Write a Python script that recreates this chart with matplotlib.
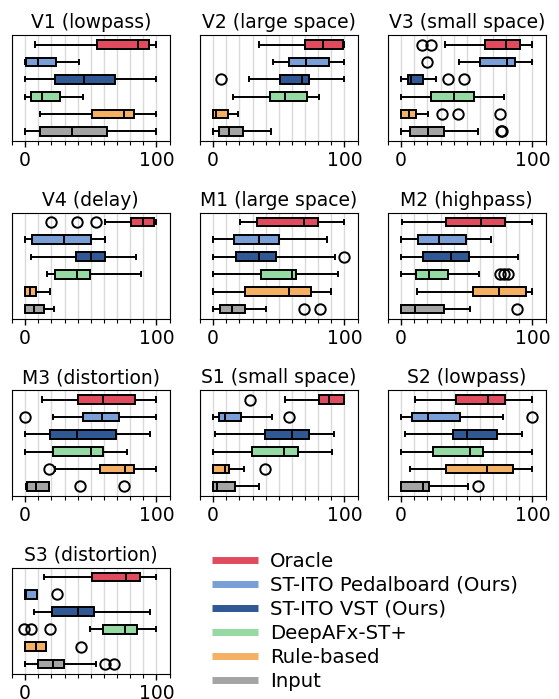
import matplotlib
matplotlib.use("Agg")
import matplotlib.pyplot as plt
from matplotlib.lines import Line2D
from matplotlib.ticker import MultipleLocator

plt.rcParams['font.family'] = ['DejaVu Sans']
plt.rcParams['font.size'] = 13.5

methods = ["Oracle", "ST-ITO Pedalboard (Ours)", "ST-ITO VST (Ours)",
           "DeepAFx-ST+", "Rule-based", "Input"]
colors = ["#e04b5e", "#7a9fd6", "#2f5895", "#95d9a3", "#f4b063", "#a4a4a4"]

titles = ["V1 (lowpass)", "V2 (large space)", "V3 (small space)",
          "V4 (delay)", "M1 (large space)", "M2 (highpass)",
          "M3 (distortion)", "S1 (small space)", "S2 (lowpass)",
          "S3 (distortion)"]

# each row: (whisker low, q1, median, q3, whisker high, fliers), order = methods
V1 = [(7.7, 54.8, 86, 94, 100, []),
      (0, 0.8, 9.7, 23.5, 41, []),
      (0, 22.4, 45, 68.4, 100, []),
      (0, 4.3, 13, 26.8, 44, []),
      (11.7, 51, 75, 83, 100, []),
      (0, 11.5, 36, 62, 100, [])]
V2 = [(34.6, 69.7, 84, 98.7, 100, []),
      (45.5, 57.8, 70.5, 88.5, 100, []),
      (27.7, 50.9, 68, 73.3, 100, [5.9]),
      (15.3, 43.5, 55, 71.2, 81, []),
      (0, 0, 2, 11.7, 19.3, []),
      (0, 4.6, 12.2, 22.4, 44.3, [])]
V3 = [(33.8, 63.9, 80, 90.6, 100, [15.8, 22.6]),
      (44, 60, 81, 87, 100, [19.6]),
      (0, 5.6, 7.4, 16.5, 26.5, [35.9, 48]),
      (0, 22.6, 40, 55.2, 78.6, []),
      (0, 0, 6, 11.5, 20.6, [31, 43.5, 75.6]),
      (0, 6.9, 20.4, 33, 58.3, [76, 76.6])]
V4 = [(61.2, 80.4, 90, 98.2, 100, [19.6, 39.5, 54.3]),
      (0, 5.1, 29.3, 50, 60.5, []),
      (4.6, 38.5, 50, 61.2, 84.2, []),
      (16.6, 22.4, 39.3, 49.2, 88, []),
      (0, 0, 3.8, 8.2, 19.1, []),
      (0, 0, 6.4, 14.5, 22.2, [])]
M1 = [(20.1, 33.6, 69.2, 79.6, 100, []),
      (0, 15.8, 34.6, 49.9, 86.5, []),
      (0, 17.8, 34.6, 47.8, 93.1, [100]),
      (0, 36.6, 60, 63.4, 95.2, []),
      (0, 24.4, 58, 74.3, 89.8, []),
      (0, 5.3, 14.2, 24.4, 40.5, [69.2, 81.2])]
M2 = [(0.8, 34, 61, 79.4, 100, []),
      (0, 13.2, 28.5, 49.4, 68.4, []),
      (0, 17, 38.2, 51.4, 88.8, []),
      (0, 11.5, 21.1, 35.4, 59.5, [75.6, 78.6, 81.7]),
      (12, 54.5, 74.3, 95, 100, []),
      (0, 0, 10.2, 32.6, 52.7, [88.5])]
M3 = [(12.8, 40, 59.7, 83.4, 100, []),
      (20.9, 44.1, 58.7, 71.9, 100, [0]),
      (0, 19.1, 39.3, 69.1, 94.9, []),
      (0, 21.2, 50.3, 59.4, 77.3, []),
      (23, 56.9, 76, 82.9, 100, [18.1]),
      (0.8, 1.8, 8.2, 17.9, 17.9, [42, 75.3])]
S1 = [(55, 80.7, 88, 100, 100, [28.2]),
      (0, 4.8, 9.2, 21.1, 44.8, [58]),
      (1.5, 39.7, 60, 73, 92, []),
      (0, 29.5, 54.2, 64.9, 90.8, []),
      (0, 0, 9.4, 12.2, 23.4, [39.7]),
      (0, 0, 2.8, 16.3, 34.9, [])]
S2 = [(10.9, 42, 66.2, 79.1, 100, []),
      (0, 8.1, 20.1, 44.5, 77.4, [100]),
      (3.1, 39.7, 50.1, 73, 92.4, []),
      (0, 24.2, 52.4, 62.1, 100, []),
      (7.1, 34.4, 65.1, 85.2, 100, []),
      (0, 0, 16.5, 21.6, 50.9, [58.5])]
S3 = [(14, 51, 76.8, 87.8, 100, []),
      (0, 0, 0.5, 8.7, 8.7, [24.2]),
      (7.1, 20.4, 40, 52.3, 94.9, []),
      (49.7, 59.2, 76, 85.5, 100, [-0.5, 4.3, 19.1]),
      (0, 0, 8.4, 16.1, 16.1, [42.6]),
      (0, 9.7, 20.9, 29.6, 54.3, [61.2, 67.6])]

panels = [V1, V2, V3, V4, M1, M2, M3, S1, S2, S3]

fig = plt.figure(figsize=(5.59, 6.99), dpi=100)
W, H = 559.0, 699.0
col_left = [12, 200, 388]
row_top = [35, 212.5, 390, 567.5]
aw, ah = 157.5, 106

for i, (title, data) in enumerate(zip(titles, panels)):
    r, c = divmod(i, 3)
    ax = fig.add_axes([col_left[c] / W, 1 - (row_top[r] + ah) / H, aw / W, ah / H])
    stats = []
    for lo, q1, med, q3, hi, fl in data:
        stats.append(dict(whislo=lo, q1=q1, med=med, q3=q3, whishi=hi, fliers=fl))
    positions = list(range(len(stats), 0, -1))
    bp = ax.bxp(stats, positions=positions, vert=False, widths=0.5,
                patch_artist=True, showfliers=True,
                boxprops=dict(edgecolor='black', linewidth=1.4),
                medianprops=dict(color='black', linewidth=1.4),
                whiskerprops=dict(color='black', linewidth=1.4),
                capprops=dict(color='black', linewidth=1.4),
                flierprops=dict(marker='o', markerfacecolor='none',
                                markeredgecolor='black', markersize=7.5,
                                markeredgewidth=1.4))
    for patch, col in zip(bp['boxes'], colors):
        patch.set_facecolor(col)
    ax.set_xlim(-10, 110)
    ax.set_ylim(0.45, 6.55)
    ax.set_xticks([0, 100])
    ax.xaxis.set_minor_locator(MultipleLocator(10))
    ax.set_yticks([])
    ax.grid(axis='x', which='both', color='#dadada', linewidth=1.0, zorder=0)
    ax.set_axisbelow(True)
    ax.tick_params(axis='x', which='major', length=4, width=1.0, labelsize=13.5)
    ax.tick_params(axis='x', which='minor', length=3, width=0.8)
    ax.set_title(title, fontsize=13.5, pad=5)

handles = [Line2D([0], [0], color=col, lw=5, solid_capstyle='butt') for col in colors]
fig.legend(handles, methods, loc='upper left', bbox_to_anchor=(0.365, 0.2222),
           frameon=False, fontsize=14.2, handlelength=2.33, handletextpad=0.61,
           labelspacing=0.255, borderaxespad=0)

fig.savefig("out.png", dpi=100)
